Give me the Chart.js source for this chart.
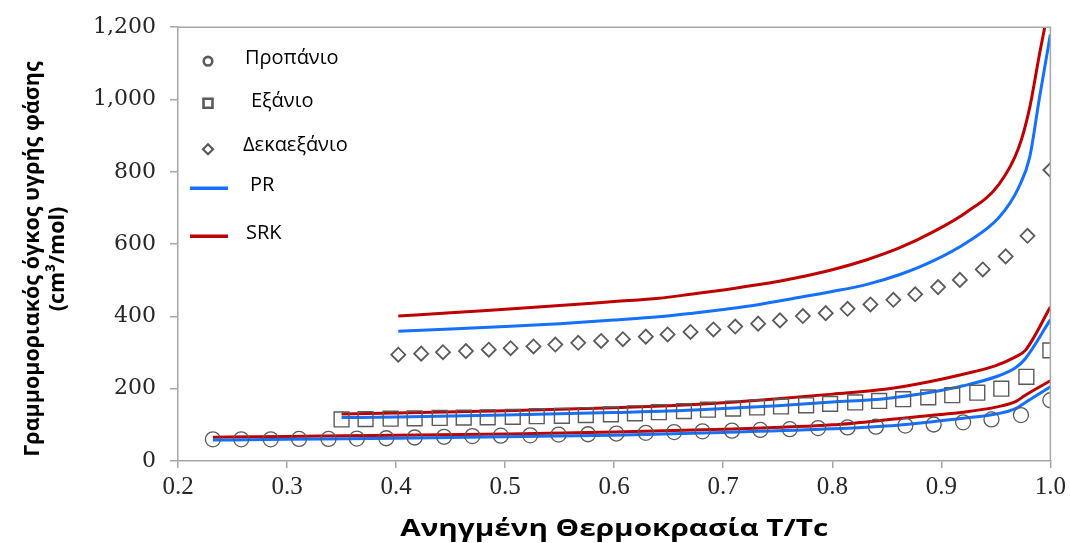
<!DOCTYPE html>
<html>
<head>
<meta charset="utf-8">
<script src="https://cdn.jsdelivr.net/npm/chart.js@4.4.1/dist/chart.umd.min.js"></script>
<style>
  html, body { margin: 0; padding: 0; background: #ffffff; }
  #wrap { width: 1070px; height: 543px; position: relative; }
</style>
</head>
<body>
<div id="wrap"><canvas id="c" width="1070" height="543"></canvas></div>
<script>
// ---------- Data ----------
const xTickLabels = ['0.2','0.3','0.4','0.5','0.6','0.7','0.8','0.9','1.0'];
const yTickLabels = ['0','200','400','600','800','1,000','1,200'];

// Experimental points
const propaneT = [0.232,0.258,0.285,0.311,0.338,0.364,0.391,0.417,0.444,0.470,0.496,0.523,0.549,0.576,0.602,0.629,0.655,0.681,0.708,0.734,0.761,0.787,0.814,0.840,0.867,0.893,0.920,0.946,0.973,1.000];
const propaneV = [60,60,60,61,61,62,63,65,67,69,70,71,73,74,76,78,80,82,84,86,88,91,93,95,98,101,107,115,127,168];

const hexaneT = [0.350,0.372,0.395,0.417,0.440,0.462,0.484,0.507,0.529,0.552,0.574,0.597,0.619,0.641,0.664,0.686,0.709,0.731,0.753,0.776,0.798,0.821,0.843,0.865,0.888,0.910,0.933,0.955,0.978,1.000];
const hexaneV = [115,116,117,118,119,120,121,122,124,125,127,129,132,135,138,142,145,148,151,154,158,162,166,171,176,182,189,200,233,306];

const hexadecaneT = [0.402,0.423,0.443,0.464,0.485,0.505,0.526,0.546,0.567,0.588,0.608,0.629,0.649,0.670,0.691,0.711,0.732,0.752,0.773,0.794,0.814,0.835,0.856,0.876,0.897,0.917,0.938,0.959,0.979,1.000];
const hexadecaneV = [294,297,301,304,308,312,317,322,327,332,337,344,350,357,364,372,380,389,401,409,421,433,446,461,481,501,530,566,623,805];

// Model curves (PR and SRK)
const propaneLineT = [0.232,0.3,0.4,0.5,0.6,0.7,0.8,0.86,0.89,0.92,0.95,0.968,0.977,1.0];
const propanePR    = [58,60,63,67,71,79,89,99,108,118,130,145,162,205];
const propaneSRK   = [66,68,71,75,80,88,100,117,126,135,149,164,182,222];

const hexaneLineT = [0.35,0.4,0.5,0.6,0.65,0.7,0.75,0.8,0.85,0.89,0.92,0.95,0.968,0.977,1.0];
const hexanePR    = [120,122,127,134,138,145,153,163,173,190,208,233,258,283,391];
const hexaneSRK   = [130,133,139,147,153,161,172,185,199,220,240,264,288,306,426];

const hexadecaneLineT = [0.402,0.45,0.5,0.55,0.6,0.641,0.672,0.702,0.733,0.763,0.8,0.831,0.862,0.892,0.923,0.953,0.971,0.981,0.99,1.0];
const hexadecanePR    = [359,365,372,380,390,399,409,420,433,449,469,488,516,553,604,674,757,840,1005,1180];
const hexadecaneSRK   = [401,410,420,430,441,450,462,474,488,504,529,556,590,633,688,766,867,977,1125,1280];

const seriesNames = ['Προπάνιο','Εξάνιο','Δεκαεξάνιο','PR','SRK'];
const xTitle = 'Ανηγμένη Θερμοκρασία T/Tc';
const yTitleLines = ['Γραμμομοριακός όγκος υγρής φάσης','(cm³/mol)'];

// ---------- Build ----------
const pts = (xs, ys) => xs.map((x, i) => ({x: x, y: ys[i]}));
const BLUE = '#1470ff', RED = '#c00000', MARK = '#5a5a5a', AXIS = '#a6a6a6';

function markerDs(label, xs, ys, style, r, bw) {
  return { type: 'scatter', label, data: pts(xs, ys), showLine: false,
    pointStyle: style, pointRadius: r, pointHoverRadius: r,
    pointBorderColor: MARK, pointBackgroundColor: 'rgba(0,0,0,0)', pointBorderWidth: bw,
    order: 0 };
}
function lineDs(label, xs, ys, color) {
  return { type: 'line', label, data: pts(xs, ys), borderColor: color, borderWidth: 3,
    pointRadius: 0, fill: false, cubicInterpolationMode: 'monotone', order: 1 };
}

const datasets = [
  markerDs(seriesNames[0], propaneT, propaneV, 'circle', 7.5, 1.3),
  markerDs(seriesNames[1], hexaneT, hexaneV, 'rect', 10.5, 1.4),
  markerDs(seriesNames[2], hexadecaneT, hexadecaneV, 'rectRot', 7, 1.8),
  lineDs(seriesNames[3], propaneLineT, propanePR, BLUE),
  lineDs(seriesNames[4], propaneLineT, propaneSRK, RED),
  lineDs(seriesNames[3], hexaneLineT, hexanePR, BLUE),
  lineDs(seriesNames[4], hexaneLineT, hexaneSRK, RED),
  lineDs(seriesNames[3], hexadecaneLineT, hexadecanePR, BLUE),
  lineDs(seriesNames[4], hexadecaneLineT, hexadecaneSRK, RED)
];

// Frame (top and right border)
const framePlugin = {
  id: 'frame',
  afterDraw(chart) {
    const {ctx, chartArea: a} = chart;
    ctx.save();
    ctx.strokeStyle = AXIS; ctx.lineWidth = 1.5;
    ctx.beginPath();
    ctx.moveTo(a.left, a.top); ctx.lineTo(a.right, a.top); ctx.lineTo(a.right, a.bottom);
    ctx.stroke();
    ctx.restore();
  }
};

// Legend inside the plot area
const legendPlugin = {
  id: 'innerLegend',
  afterDraw(chart) {
    const {ctx, chartArea: a} = chart;
    const items = [
      {ds: 0, kind: 'circle', my: 34, ty: 31, tx: 67},
      {ds: 1, kind: 'rect',   my: 76, ty: 74, tx: 73},
      {ds: 2, kind: 'diamond',my: 122, ty: 118, tx: 65},
      {ds: 3, kind: 'line',   my: 161, ty: 158, tx: 72},
      {ds: 4, kind: 'line',   my: 209, ty: 206, tx: 68}
    ];
    ctx.save();
    items.forEach(it => {
      const d = chart.data.datasets[it.ds];
      const mx = a.left + 30, my = a.top + it.my;
      ctx.lineWidth = 2.6;
      ctx.strokeStyle = MARK;
      ctx.beginPath();
      if (it.kind === 'circle') {
        ctx.arc(mx, my, 4.3, 0, Math.PI * 2);
      } else if (it.kind === 'rect') {
        ctx.rect(mx - 4.5, my - 4.5, 9, 9);
      } else if (it.kind === 'diamond') {
        ctx.lineWidth = 2.2;
        ctx.moveTo(mx, my - 5); ctx.lineTo(mx + 5, my); ctx.lineTo(mx, my + 5); ctx.lineTo(mx - 5, my); ctx.closePath();
      } else {
        ctx.strokeStyle = d.borderColor; ctx.lineWidth = 3.5;
        ctx.moveTo(a.left + 12, my); ctx.lineTo(a.left + 50, my);
      }
      ctx.stroke();
      ctx.fillStyle = '#000';
      ctx.font = '20px "Open Sans"';
      ctx.textAlign = 'left'; ctx.textBaseline = 'middle';
      ctx.fillText(d.label, a.left + it.tx, a.top + it.ty);
    });
    ctx.restore();
  }
};

// Axis titles (x title and two rotated y lines), fitted to the reference text widths
const titlePlugin = {
  id: 'axisTitles',
  afterDraw(chart) {
    const {ctx, chartArea: a} = chart;
    ctx.save();
    ctx.fillStyle = '#000';
    ctx.textAlign = 'center'; ctx.textBaseline = 'middle';
    // x title
    ctx.font = 'bold 23px "Open Sans"';
    const wx = ctx.measureText(xTitle).width;
    ctx.save();
    ctx.translate((a.left + a.right) / 2, 529);
    ctx.scale(Math.min(1.3, 428 / wx), 1);
    ctx.fillText(xTitle, 0, 0);
    ctx.restore();
    // y title
    ctx.font = 'bold 21.5px "Open Sans"';
    const cy = 259;
    [33, 58].forEach((x, i) => {
      ctx.save();
      ctx.translate(x, cy);
      ctx.rotate(-Math.PI / 2);
      ctx.fillText(yTitleLines[i], 0, 0);
      ctx.restore();
    });
    ctx.restore();
  }
};

new Chart(document.getElementById('c'), {
  data: { datasets },
  options: {
    responsive: false,
    animation: false,
    layout: { padding: { left: 0, right: 19, top: 25, bottom: 0 } },
    plugins: { legend: { display: false }, tooltip: { enabled: false } },
    scales: {
      x: {
        type: 'linear', min: 0.2, max: 1.0,
        ticks: {
          stepSize: 0.1, padding: 4, color: '#262626',
          font: { family: '"Liberation Serif"', size: 25 },
          callback: (v) => { const i = Math.round((v - 0.2) * 10); return xTickLabels[i]; }
        },
        grid: { drawOnChartArea: false, drawTicks: true, tickLength: 7, color: AXIS, lineWidth: 1.5 },
        border: { display: true, color: AXIS, width: 1.5 },
        title: { display: false },
        afterFit: (s) => { s.height = 82; }
      },
      y: {
        type: 'linear', min: 0, max: 1200,
        ticks: {
          stepSize: 200, padding: 14, color: '#262626',
          font: { family: '"DejaVu Serif"', size: 22 },
          callback: (v) => yTickLabels[Math.round(v / 200)]
        },
        grid: { drawOnChartArea: false, drawTicks: true, tickLength: 8, color: AXIS, lineWidth: 1.5 },
        border: { display: true, color: AXIS, width: 1.5 },
        afterFit: (s) => { s.width = 178; }
      }
    }
  },
  plugins: [framePlugin, legendPlugin, titlePlugin]
});
</script>
</body>
</html>
